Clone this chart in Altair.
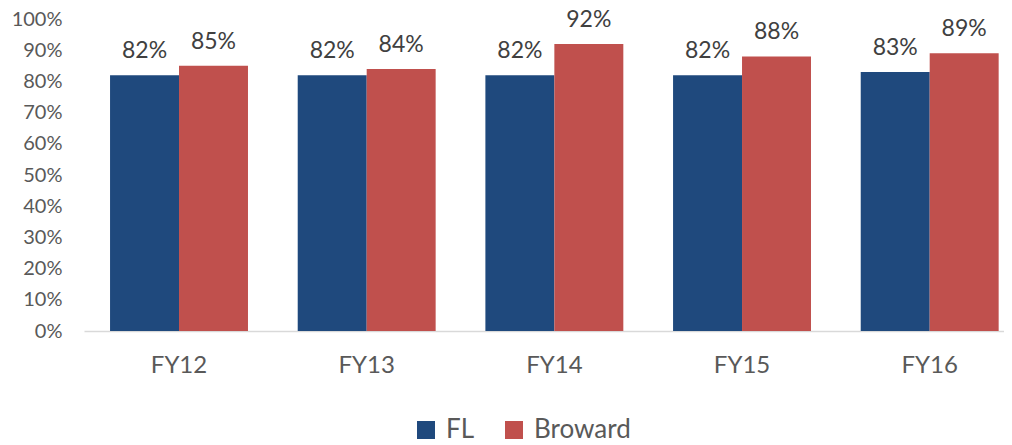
import altair as alt
import pandas as pd

categories = ["FY12", "FY13", "FY14", "FY15", "FY16"]
series_names = ["FL", "Broward"]
fl_values = [0.82, 0.82, 0.82, 0.82, 0.83]
broward_values = [0.85, 0.84, 0.92, 0.88, 0.89]
colors = ["#1F497D", "#C0504D"]
y_ticks = [i / 10 for i in range(11)]

rows = []
for c, f, b in zip(categories, fl_values, broward_values):
    rows.append({"year": c, "series": "FL", "value": f})
    rows.append({"year": c, "series": "Broward", "value": b})
df = pd.DataFrame(rows)

FONT = "Lato"
TXT = "#595959"

x_enc = alt.X(
    "year:N",
    sort=categories,
    scale=alt.Scale(paddingInner=0.265, paddingOuter=0.0836, align=0.83),
    axis=alt.Axis(
        title=None, labelAngle=0, ticks=False, domainColor="#D9D9D9", domainWidth=1.5,
        labelFont=FONT, labelFontSize=24, labelColor=TXT, labelPadding=22,
    ),
)
xo_enc = alt.XOffset("series:N", sort=series_names,
                     scale=alt.Scale(paddingInner=0, paddingOuter=0))
y_enc = alt.Y(
    "value:Q",
    scale=alt.Scale(domain=[0, 1], nice=False),
    axis=alt.Axis(
        title=None, values=y_ticks, format=".0%", domain=False, ticks=False, grid=False,
        labelFont=FONT, labelFontSize=20, labelColor=TXT, labelPadding=22,
    ),
)
color_enc = alt.Color(
    "series:N",
    sort=series_names,
    scale=alt.Scale(domain=series_names, range=colors),
    legend=alt.Legend(
        title=None, orient="none", direction="horizontal", legendX=329, legendY=398,
        symbolType="square", symbolSize=324, symbolStrokeWidth=0,
        labelFont=FONT, labelFontSize=26, labelColor=TXT, labelOffset=7,
        columnPadding=26,
    ),
)

bars = alt.Chart(df).mark_bar().encode(x=x_enc, xOffset=xo_enc, y=y_enc, color=color_enc)
labels = alt.Chart(df).mark_text(
    font=FONT, fontSize=23, color="#404040", baseline="alphabetic", dy=-17
).encode(x=x_enc, xOffset=xo_enc, y=y_enc, text=alt.Text("value:Q", format=".0%"))

chart = (
    alt.layer(bars, labels)
    .properties(
        width=920, height=312,
        autosize=alt.AutoSizeParams(type="none"),
        padding={"left": 76, "top": 11, "right": 0, "bottom": 117},
    )
    .configure_view(stroke=None)
)

chart.save("out.html", embed_options={"renderer": "svg", "actions": False})
